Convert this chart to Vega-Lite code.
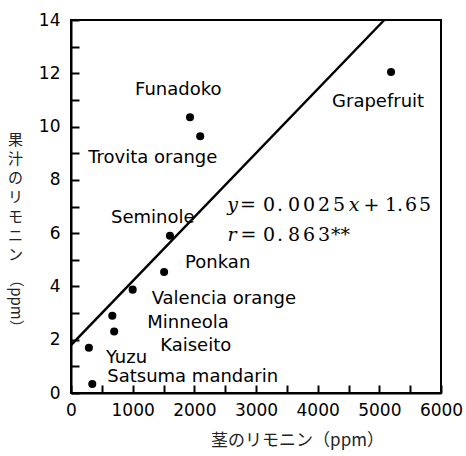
{
  "$schema": "https://vega.github.io/schema/vega-lite/v6.json",
  "width": 370,
  "height": 373,
  "autosize": "none",
  "padding": {"left": 71, "top": 20, "right": 25, "bottom": 63},
  "background": "white",
  "datasets": {
    "points": [
      {"name": "Funadoko", "x": 1930, "y": 10.35},
      {"name": "Trovita orange", "x": 2095, "y": 9.64},
      {"name": "Grapefruit", "x": 5190, "y": 12.05},
      {"name": "Seminole", "x": 1605, "y": 5.9},
      {"name": "Ponkan", "x": 1510, "y": 4.54},
      {"name": "Valencia orange", "x": 1000, "y": 3.88},
      {"name": "Minneola", "x": 670, "y": 2.9},
      {"name": "Kaiseito", "x": 700, "y": 2.31},
      {"name": "Yuzu", "x": 290, "y": 1.7},
      {"name": "Satsuma mandarin", "x": 345, "y": 0.34}
    ],
    "fit": [
      {"x": 0, "y": 1.8},
      {"x": 5080, "y": 14}
    ],
    "eq1": [{"x": 2530, "y": 7.07}],
    "eq2": [{"x": 2530, "y": 5.94}]
  },
  "layer": [
    {
      "encoding": {
        "x": {
          "field": "x", "type": "quantitative",
          "scale": {"domain": [0, 6000], "nice": false, "zero": false},
          "axis": {
            "values": [0, 500, 1000, 1500, 2000, 2500, 3000, 3500, 4000, 4500, 5000, 5500, 6000],
            "labelExpr": "datum.value % 1000 === 0 ? datum.label : ''",
            "format": "d",
            "tickSize": -8,
            "labelPadding": 17.5,
            "labelFlush": false,
            "labelOverlap": false,
            "title": "茎のリモニン（ppm）",
            "titleFont": "Noto Sans CJK JP",
            "titleFontSize": 17,
            "titleFontWeight": "normal",
            "titleColor": "#222",
            "titleX": 226,
            "titleY": 47,
            "titleAlign": "center",
            "titleBaseline": "middle"
          }
        },
        "y": {
          "field": "y", "type": "quantitative",
          "scale": {"domain": [0, 14], "nice": false, "zero": false},
          "axis": {
            "values": [0, 1, 2, 3, 4, 5, 6, 7, 8, 9, 10, 11, 12, 13, 14],
            "labelExpr": "datum.value % 2 === 0 ? datum.label : ''",
            "tickSize": -8,
            "labelPadding": 19,
            "labelFlush": false,
            "labelOverlap": false,
            "title": ["果", "汁", "の", "リ", "モ", "ニ", "ン"],
            "titleFont": "Noto Sans CJK JP",
            "titleFontSize": 15,
            "titleFontWeight": "normal",
            "titleColor": "#222",
            "titleAngle": 0,
            "titleLineHeight": 19.3,
            "titleX": -56,
            "titleY": 112,
            "titleAlign": "center",
            "titleBaseline": "top"
          }
        }
      },
      "layer": [
        {
          "data": {"name": "fit"},
          "mark": {"type": "line", "color": "black", "strokeWidth": 2.5}
        },
        {
          "data": {"name": "points"},
          "mark": {"type": "circle", "color": "black", "opacity": 1, "size": 65}
        },
        {"data": {"name": "points"}, "transform": [{"filter": "datum.name === 'Funadoko'"}],
         "mark": {"type": "text", "align": "left", "baseline": "middle", "dx": -55, "dy": -27, "font": "DejaVu Sans", "fontSize": 18, "color": "black"},
         "encoding": {"text": {"field": "name"}}},
        {"data": {"name": "points"}, "transform": [{"filter": "datum.name === 'Trovita orange'"}],
         "mark": {"type": "text", "align": "left", "baseline": "middle", "dx": -112, "dy": 22, "font": "DejaVu Sans", "fontSize": 18, "color": "black"},
         "encoding": {"text": {"field": "name"}}},
        {"data": {"name": "points"}, "transform": [{"filter": "datum.name === 'Grapefruit'"}],
         "mark": {"type": "text", "align": "left", "baseline": "middle", "dx": -59, "dy": 30, "font": "DejaVu Sans", "fontSize": 18, "color": "black"},
         "encoding": {"text": {"field": "name"}}},
        {"data": {"name": "points"}, "transform": [{"filter": "datum.name === 'Seminole'"}],
         "mark": {"type": "text", "align": "left", "baseline": "middle", "dx": -59, "dy": -18, "font": "DejaVu Sans", "fontSize": 18, "color": "black"},
         "encoding": {"text": {"field": "name"}}},
        {"data": {"name": "points"}, "transform": [{"filter": "datum.name === 'Ponkan'"}],
         "mark": {"type": "text", "align": "left", "baseline": "middle", "dx": 21, "dy": -9, "font": "DejaVu Sans", "fontSize": 18, "color": "black"},
         "encoding": {"text": {"field": "name"}}},
        {"data": {"name": "points"}, "transform": [{"filter": "datum.name === 'Valencia orange'"}],
         "mark": {"type": "text", "align": "left", "baseline": "middle", "dx": 19, "dy": 9, "font": "DejaVu Sans", "fontSize": 18, "color": "black"},
         "encoding": {"text": {"field": "name"}}},
        {"data": {"name": "points"}, "transform": [{"filter": "datum.name === 'Minneola'"}],
         "mark": {"type": "text", "align": "left", "baseline": "middle", "dx": 35, "dy": 7, "font": "DejaVu Sans", "fontSize": 18, "color": "black"},
         "encoding": {"text": {"field": "name"}}},
        {"data": {"name": "points"}, "transform": [{"filter": "datum.name === 'Kaiseito'"}],
         "mark": {"type": "text", "align": "left", "baseline": "middle", "dx": 46, "dy": 15, "font": "DejaVu Sans", "fontSize": 18, "color": "black"},
         "encoding": {"text": {"field": "name"}}},
        {"data": {"name": "points"}, "transform": [{"filter": "datum.name === 'Yuzu'"}],
         "mark": {"type": "text", "align": "left", "baseline": "middle", "dx": 17, "dy": 10, "font": "DejaVu Sans", "fontSize": 18, "color": "black"},
         "encoding": {"text": {"field": "name"}}},
        {"data": {"name": "points"}, "transform": [{"filter": "datum.name === 'Satsuma mandarin'"}],
         "mark": {"type": "text", "align": "left", "baseline": "middle", "dx": 15, "dy": -7, "font": "DejaVu Sans", "fontSize": 18, "color": "black"},
         "encoding": {"text": {"field": "name"}}},

        {"data": {"name": "eq1"}, "mark": {"type": "text", "align": "center", "baseline": "middle", "dx": 5.5, "font": "DejaVu Serif", "fontStyle": "italic", "fontSize": 19, "color": "black"}, "encoding": {"text": {"value": "y"}}},
        {"data": {"name": "eq1"}, "mark": {"type": "text", "align": "center", "baseline": "middle", "dx": 21, "font": "DejaVu Serif", "fontSize": 19, "color": "black"}, "encoding": {"text": {"value": "="}}},
        {"data": {"name": "eq1"}, "mark": {"type": "text", "align": "center", "baseline": "middle", "dx": 42, "font": "DejaVu Serif", "fontSize": 19, "color": "black"}, "encoding": {"text": {"value": "0"}}},
        {"data": {"name": "eq1"}, "mark": {"type": "text", "align": "center", "baseline": "middle", "dx": 53, "font": "DejaVu Serif", "fontSize": 19, "color": "black"}, "encoding": {"text": {"value": "."}}},
        {"data": {"name": "eq1"}, "mark": {"type": "text", "align": "center", "baseline": "middle", "dx": 67, "font": "DejaVu Serif", "fontSize": 19, "color": "black"}, "encoding": {"text": {"value": "0"}}},
        {"data": {"name": "eq1"}, "mark": {"type": "text", "align": "center", "baseline": "middle", "dx": 82, "font": "DejaVu Serif", "fontSize": 19, "color": "black"}, "encoding": {"text": {"value": "0"}}},
        {"data": {"name": "eq1"}, "mark": {"type": "text", "align": "center", "baseline": "middle", "dx": 97, "font": "DejaVu Serif", "fontSize": 19, "color": "black"}, "encoding": {"text": {"value": "2"}}},
        {"data": {"name": "eq1"}, "mark": {"type": "text", "align": "center", "baseline": "middle", "dx": 112, "font": "DejaVu Serif", "fontSize": 19, "color": "black"}, "encoding": {"text": {"value": "5"}}},
        {"data": {"name": "eq1"}, "mark": {"type": "text", "align": "center", "baseline": "middle", "dx": 127, "font": "DejaVu Serif", "fontStyle": "italic", "fontSize": 19, "color": "black"}, "encoding": {"text": {"value": "x"}}},
        {"data": {"name": "eq1"}, "mark": {"type": "text", "align": "center", "baseline": "middle", "dx": 144.5, "font": "DejaVu Serif", "fontSize": 19, "color": "black"}, "encoding": {"text": {"value": "+"}}},
        {"data": {"name": "eq1"}, "mark": {"type": "text", "align": "center", "baseline": "middle", "dx": 164, "font": "DejaVu Serif", "fontSize": 19, "color": "black"}, "encoding": {"text": {"value": "1"}}},
        {"data": {"name": "eq1"}, "mark": {"type": "text", "align": "center", "baseline": "middle", "dx": 173, "font": "DejaVu Serif", "fontSize": 19, "color": "black"}, "encoding": {"text": {"value": "."}}},
        {"data": {"name": "eq1"}, "mark": {"type": "text", "align": "center", "baseline": "middle", "dx": 184, "font": "DejaVu Serif", "fontSize": 19, "color": "black"}, "encoding": {"text": {"value": "6"}}},
        {"data": {"name": "eq1"}, "mark": {"type": "text", "align": "center", "baseline": "middle", "dx": 198, "font": "DejaVu Serif", "fontSize": 19, "color": "black"}, "encoding": {"text": {"value": "5"}}},

        {"data": {"name": "eq2"}, "mark": {"type": "text", "align": "center", "baseline": "middle", "dx": 5, "font": "DejaVu Serif", "fontStyle": "italic", "fontSize": 19, "color": "black"}, "encoding": {"text": {"value": "r"}}},
        {"data": {"name": "eq2"}, "mark": {"type": "text", "align": "center", "baseline": "middle", "dx": 21.5, "font": "DejaVu Serif", "fontSize": 19, "color": "black"}, "encoding": {"text": {"value": "="}}},
        {"data": {"name": "eq2"}, "mark": {"type": "text", "align": "center", "baseline": "middle", "dx": 42, "font": "DejaVu Serif", "fontSize": 19, "color": "black"}, "encoding": {"text": {"value": "0"}}},
        {"data": {"name": "eq2"}, "mark": {"type": "text", "align": "center", "baseline": "middle", "dx": 53, "font": "DejaVu Serif", "fontSize": 19, "color": "black"}, "encoding": {"text": {"value": "."}}},
        {"data": {"name": "eq2"}, "mark": {"type": "text", "align": "center", "baseline": "middle", "dx": 67, "font": "DejaVu Serif", "fontSize": 19, "color": "black"}, "encoding": {"text": {"value": "8"}}},
        {"data": {"name": "eq2"}, "mark": {"type": "text", "align": "center", "baseline": "middle", "dx": 82, "font": "DejaVu Serif", "fontSize": 19, "color": "black"}, "encoding": {"text": {"value": "6"}}},
        {"data": {"name": "eq2"}, "mark": {"type": "text", "align": "center", "baseline": "middle", "dx": 97, "font": "DejaVu Serif", "fontSize": 19, "color": "black"}, "encoding": {"text": {"value": "3"}}},
        {"data": {"name": "eq2"}, "mark": {"type": "text", "align": "center", "baseline": "middle", "dx": 113.5, "font": "DejaVu Serif", "fontSize": 19, "color": "black"}, "encoding": {"text": {"value": "**"}}}
      ]
    },
    {
      "data": {"name": "points"},
      "mark": {"type": "point", "opacity": 0},
      "encoding": {
        "y": {
          "field": "y", "type": "quantitative",
          "scale": {"domain": [0, 14], "nice": false, "zero": false},
          "axis": {
            "orient": "right",
            "labels": false,
            "ticks": false,
            "domain": false,
            "grid": false,
            "title": "（ppm）",
            "titleFont": "Noto Sans CJK JP",
            "titleFontSize": 15,
            "titleFontWeight": "normal",
            "titleColor": "#222",
            "titleAngle": 90,
            "titleX": -426,
            "titleY": 283,
            "titleAlign": "center",
            "titleBaseline": "middle"
          }
        }
      }
    }
  ],
  "resolve": {"scale": {"y": "independent"}},
  "config": {
    "view": {"stroke": "black", "strokeWidth": 2},
    "axis": {
      "grid": false,
      "ticks": true,
      "domainColor": "black",
      "domainWidth": 2,
      "tickColor": "black",
      "tickWidth": 2,
      "labelFont": "DejaVu Sans",
      "labelFontSize": 17,
      "labelColor": "black"
    }
  }
}
